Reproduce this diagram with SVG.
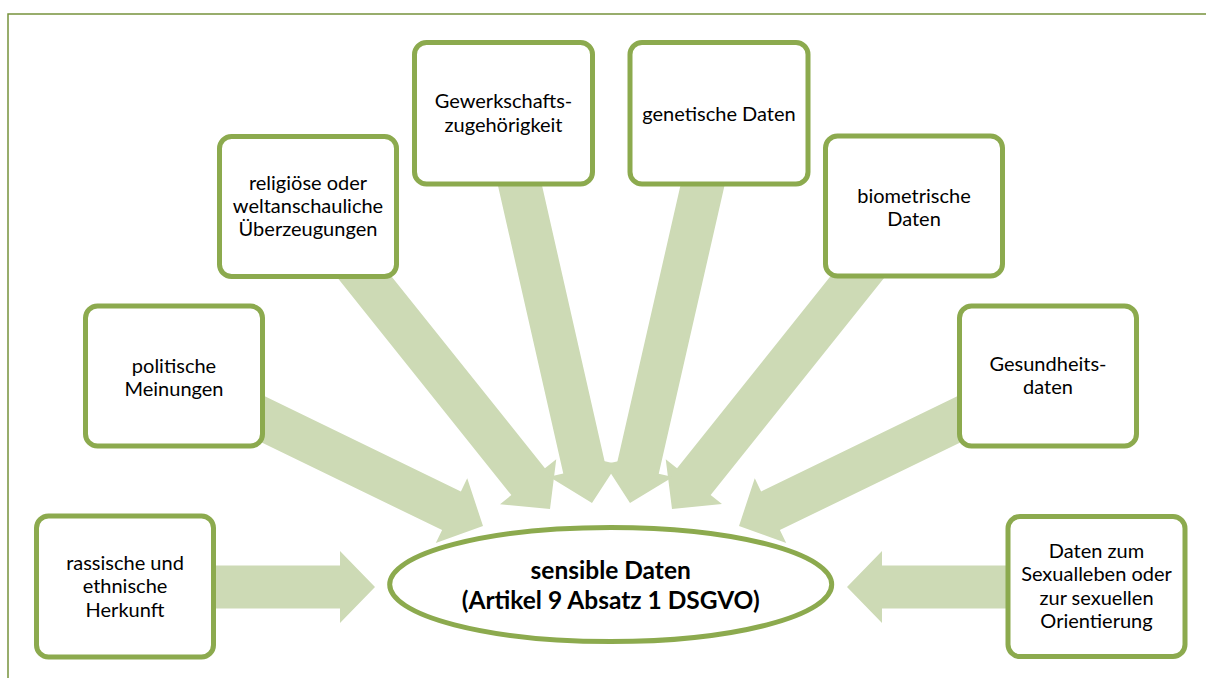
<svg xmlns="http://www.w3.org/2000/svg" width="1206" height="678" viewBox="0 0 1206 678">
<style>
.frame{fill:none;stroke:#77933C;stroke-width:1.5}
.arr{fill:#CDDAB5}
.box{fill:#FFFFFF;stroke:#8CAA4E;stroke-width:5}
.t{font-family:Lato,"Liberation Sans",sans-serif;font-size:20px;fill:#000000;text-anchor:middle}
.tb{font-family:Lato,"Liberation Sans",sans-serif;font-size:24.5px;font-weight:bold;fill:#000000;text-anchor:middle}
</style>
<rect width="1206" height="678" fill="#FFFFFF"/>
<path class="frame" d="M8,678 V14 H1206"/>
<g id="connectors">
<path class="arr" transform="translate(375,587) rotate(0)" d="M0,0 L-35,-36 L-35,-21.5 L-250,-21.5 L-250,21.5 L-35,21.5 L-35,36 Z"/>
<path class="arr" transform="translate(847,587) rotate(180)" d="M0,0 L-35,-36 L-35,-21.5 L-250,-21.5 L-250,21.5 L-35,21.5 L-35,36 Z"/>
<path class="arr" transform="translate(483,526) rotate(25.89)" d="M0,0 L-35,-36 L-35,-21.5 L-343.5,-21.5 L-343.5,21.5 L-35,21.5 L-35,36 Z"/>
<path class="arr" transform="translate(739,526) rotate(154.11)" d="M0,0 L-35,-36 L-35,-21.5 L-343.5,-21.5 L-343.5,21.5 L-35,21.5 L-35,36 Z"/>
<path class="arr" transform="translate(550,509) rotate(51.34)" d="M0,0 L-35,-36 L-35,-21.5 L-387.5,-21.5 L-387.5,21.5 L-35,21.5 L-35,36 Z"/>
<path class="arr" transform="translate(672,509) rotate(128.62)" d="M0,0 L-35,-36 L-35,-21.5 L-387.5,-21.5 L-387.5,21.5 L-35,21.5 L-35,36 Z"/>
<path class="arr" transform="translate(592,503) rotate(77.22)" d="M0,0 L-35,-36 L-35,-21.5 L-400,-21.5 L-400,21.5 L-35,21.5 L-35,36 Z"/>
<path class="arr" transform="translate(630,503) rotate(102.86)" d="M0,0 L-35,-36 L-35,-21.5 L-400,-21.5 L-400,21.5 L-35,21.5 L-35,36 Z"/>
</g>
<g id="node-rassisch">
<rect class="box" x="36.5" y="516" width="177" height="141" rx="12"/>
<text class="t" x="125" y="569.5">rassische und</text>
<text class="t" x="125" y="593">ethnische</text>
<text class="t" x="125" y="616.5">Herkunft</text>
</g>
<g id="node-politisch">
<rect class="box" x="85.5" y="306" width="177" height="140" rx="12"/>
<text class="t" x="174" y="373">politische</text>
<text class="t" x="174" y="396">Meinungen</text>
</g>
<g id="node-religioes">
<rect class="box" x="219.5" y="136.5" width="177" height="140" rx="12"/>
<text class="t" x="308" y="190">religiöse oder</text>
<text class="t" x="308" y="213">weltanschauliche</text>
<text class="t" x="308" y="236">Überzeugungen</text>
</g>
<g id="node-gewerkschaft">
<rect class="box" x="414.5" y="42.5" width="178" height="141.5" rx="12"/>
<text class="t" x="503.5" y="108">Gewerkschafts-</text>
<text class="t" x="503.5" y="131.5">zugehörigkeit</text>
</g>
<g id="node-genetisch">
<rect class="box" x="630" y="42.5" width="178" height="141.5" rx="12"/>
<text class="t" x="719" y="120.5">genetische Daten</text>
</g>
<g id="node-biometrisch">
<rect class="box" x="825.5" y="136" width="177" height="140" rx="12"/>
<text class="t" x="914" y="203">biometrische</text>
<text class="t" x="914" y="226">Daten</text>
</g>
<g id="node-gesundheit">
<rect class="box" x="959.5" y="306" width="177" height="140" rx="12"/>
<text class="t" x="1048" y="370.5">Gesundheits-</text>
<text class="t" x="1048" y="393.5">daten</text>
</g>
<g id="node-sexual">
<rect class="box" x="1008" y="516.5" width="177" height="140" rx="12"/>
<text class="t" x="1096.5" y="557.5">Daten zum</text>
<text class="t" x="1096.5" y="581">Sexualleben oder</text>
<text class="t" x="1096.5" y="604.5">zur sexuellen</text>
<text class="t" x="1096.5" y="627.5">Orientierung</text>
</g>
<g id="node-center">
<ellipse class="box" cx="610.7" cy="584.5" rx="221" ry="57"/>
<text class="tb" x="610.7" y="578.5">sensible Daten</text>
<text class="tb" x="610.7" y="608.5">(Artikel 9 Absatz 1 DSGVO)</text>
</g>
</svg>
